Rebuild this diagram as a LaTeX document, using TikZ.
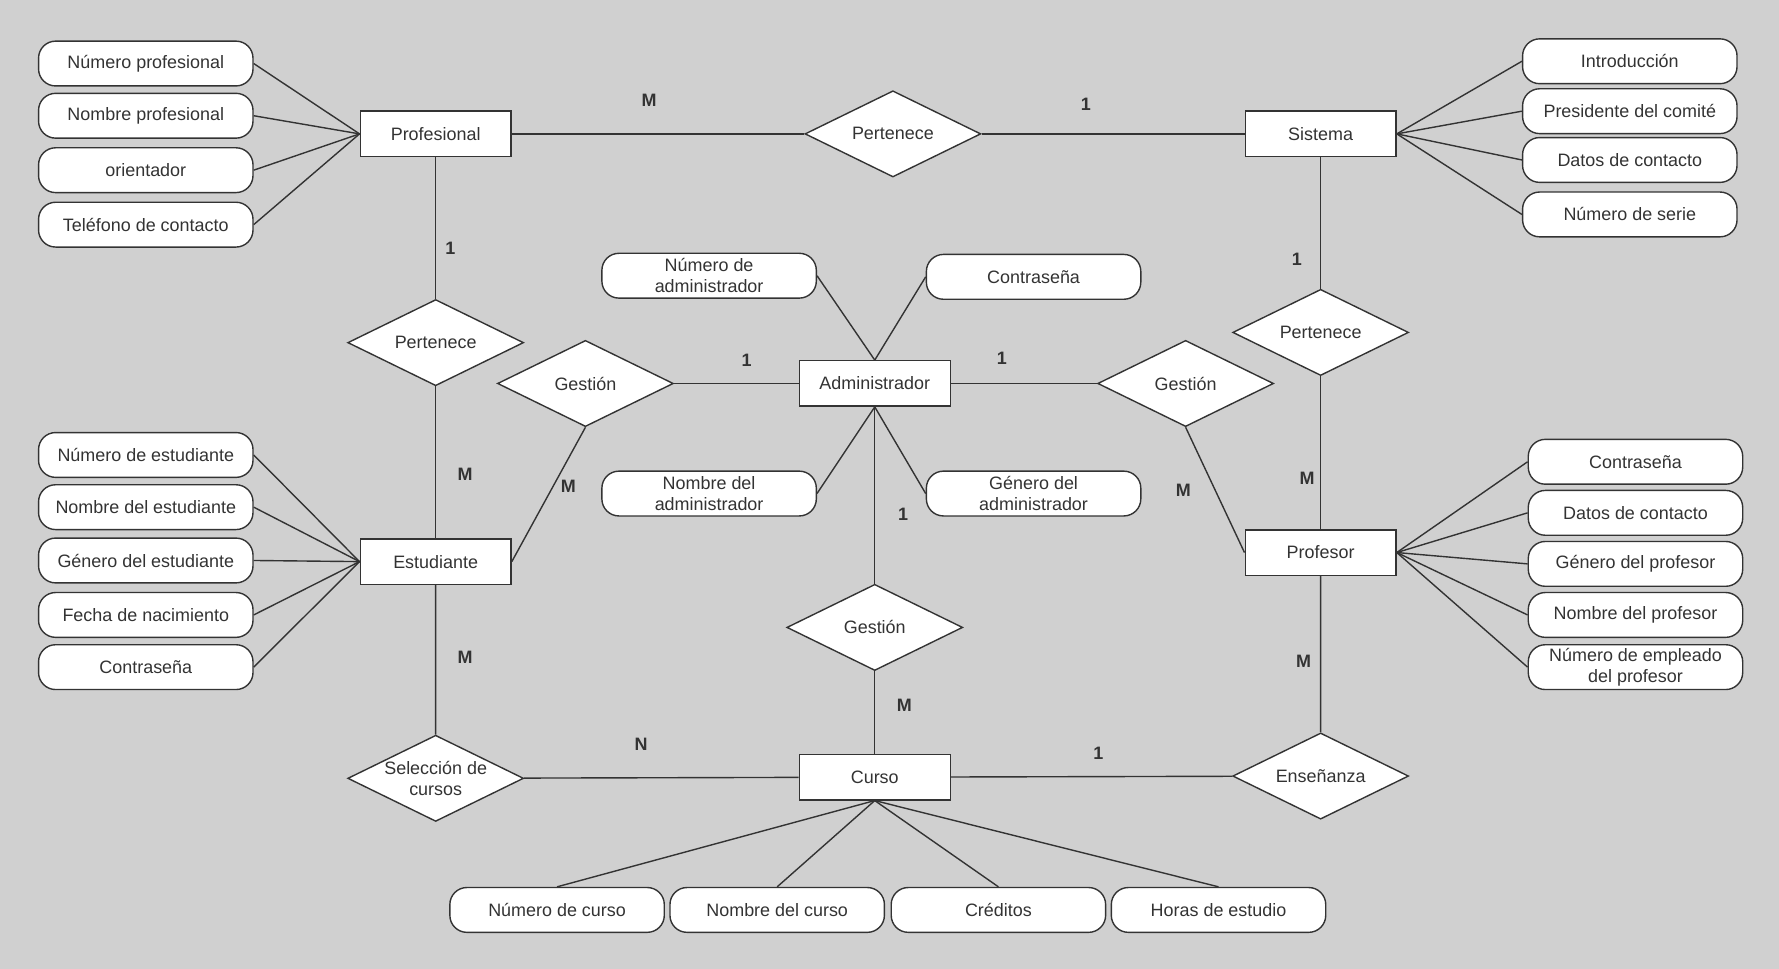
\documentclass[tikz,border=0pt]{standalone}
\usepackage{fontspec}
\setmainfont{Liberation Sans}
\usetikzlibrary{shapes.geometric}
\definecolor{bgGray}{HTML}{D0D0D0}
\definecolor{lineGray}{HTML}{333333}

\begin{document}
\begin{tikzpicture}[x=0.2mm, y=-0.2mm, color=lineGray, line width=0.7pt,
    font=\fontsize{9}{10.6}\selectfont,
    entity/.style={draw, fill=white, minimum width=26.6mm, minimum height=8mm, inner sep=1pt},
    attrib/.style={draw, fill=white, rounded corners=3mm, minimum width=37.8mm, minimum height=7.9mm, inner sep=1pt, align=center},
    relation/.style={draw, fill=white, diamond, shape aspect=2.04, minimum width=31mm, minimum height=15.2mm, inner sep=0pt, align=center},
    card/.style={font=\fontsize{9}{10}\selectfont\bfseries}]

    % background, same proportions as the page
    \useasboundingbox[fill=bgGray] (0,0) rectangle (1568,854);

    % entities
    \node[entity] (profesional) at (384,118) {Profesional};
    \node[entity] (sistema) at (1164,118) {Sistema};
    \node[entity] (estudiante) at (384,495) {Estudiante};
    \node[entity] (admin) at (771,338) {Administrador};
    \node[entity] (profesor) at (1164,487) {Profesor};
    \node[entity] (curso) at (771,685) {Curso};

    % relations
    \node[relation] (pertA) at (787,118) {Pertenece};
    \node[relation] (pertB) at (384,302) {Pertenece};
    \node[relation] (pertC) at (1164,293) {Pertenece};
    \node[relation] (gestA) at (516,338) {Gestión};
    \node[relation] (gestB) at (1045,338) {Gestión};
    \node[relation] (gestC) at (771,553) {Gestión};
    \node[relation, inner xsep=-3mm, inner ysep=-1mm] (seleccion) at (384,686) {Selección de\\cursos};
    \node[relation] (ensenanza) at (1164,684) {Enseñanza};

    % attributes of Profesional
    \node[attrib] (profNum) at (128.5,56) {Número profesional};
    \node[attrib] (profNom) at (128.5,102) {Nombre profesional};
    \node[attrib] (profOri) at (128.5,150) {orientador};
    \node[attrib] (profTel) at (128.5,198) {Teléfono de contacto};

    % attributes of Sistema
    \node[attrib] (sisIntro) at (1436.5,54) {Introducción};
    \node[attrib] (sisPres) at (1436.5,98) {Presidente del comité};
    \node[attrib] (sisDatos) at (1436.5,141) {Datos de contacto};
    \node[attrib] (sisSerie) at (1436.5,189) {Número de serie};

    % attributes of Estudiante
    \node[attrib] (estNum) at (128.5,401) {Número de estudiante};
    \node[attrib] (estNom) at (128.5,447) {Nombre del estudiante};
    \node[attrib] (estGen) at (128.5,494) {Género del estudiante};
    \node[attrib] (estFecha) at (128.5,542) {Fecha de nacimiento};
    \node[attrib] (estPass) at (128.5,588) {Contraseña};

    % attributes of Administrador
    \node[attrib] (admNum) at (625,243) {Número de\\administrador};
    \node[attrib] (admPass) at (911,244) {Contraseña};
    \node[attrib] (admNom) at (625,435) {Nombre del\\administrador};
    \node[attrib] (admGen) at (911,435) {Género del\\administrador};

    % attributes of Profesor
    \node[attrib] (docPass) at (1441.5,407) {Contraseña};
    \node[attrib] (docDatos) at (1441.5,452) {Datos de contacto};
    \node[attrib] (docGen) at (1441.5,497) {Género del profesor};
    \node[attrib] (docNom) at (1441.5,542) {Nombre del profesor};
    \node[attrib] (docNum) at (1441.5,588) {Número de empleado\\del profesor};

    % attributes of Curso
    \node[attrib] (curNum) at (491,802) {Número de curso};
    \node[attrib] (curNom) at (685,802) {Nombre del curso};
    \node[attrib] (curCred) at (880,802) {Créditos};
    \node[attrib] (curHoras) at (1074,802) {Horas de estudio};

    % attribute links
    \draw (profNum.east) -- (profesional.west);
    \draw (profNom.east) -- (profesional.west);
    \draw (profOri.east) -- (profesional.west);
    \draw (profTel.east) -- (profesional.west);
    \draw (sisIntro.west) -- (sistema.east);
    \draw (sisPres.west) -- (sistema.east);
    \draw (sisDatos.west) -- (sistema.east);
    \draw (sisSerie.west) -- (sistema.east);
    \draw (estNum.east) -- (estudiante.west);
    \draw (estNom.east) -- (estudiante.west);
    \draw (estGen.east) -- (estudiante.west);
    \draw (estFecha.east) -- (estudiante.west);
    \draw (estPass.east) -- (estudiante.west);
    \draw (admNum.east) -- (admin.north);
    \draw (admPass.west) -- (admin.north);
    \draw (admNom.east) -- (admin.south);
    \draw (admGen.west) -- (admin.south);
    \draw (docPass.west) -- (profesor.east);
    \draw (docDatos.west) -- (profesor.east);
    \draw (docGen.west) -- (profesor.east);
    \draw (docNom.west) -- (profesor.east);
    \draw (docNum.west) -- (profesor.east);
    \draw (curNum.north) -- (curso.south);
    \draw (curNom.north) -- (curso.south);
    \draw (curCred.north) -- (curso.south);
    \draw (curHoras.north) -- (curso.south);

    % relation links
    \draw (profesional) -- (pertA) -- (sistema);
    \draw (profesional) -- (pertB) -- (estudiante);
    \draw (estudiante) -- (seleccion) -- (curso);
    \draw (gestA.south) -- (estudiante.east);
    \draw (gestA) -- (admin) -- (gestB);
    \draw (admin) -- (gestC) -- (curso);
    \draw (gestB.south) -- (profesor.west);
    \draw (sistema) -- (pertC) -- (profesor);
    \draw (profesor) -- (ensenanza) -- (curso);

    % cardinalities
    \node[card] (cPA1) at (572,88) {M};
    \node[card] (cPA2) at (957,92) {1};
    \node[card] (cPB1) at (397,219) {1};
    \node[card] (cPB2) at (410,418) {M};
    \node[card] (cSel1) at (410,579) {M};
    \node[card] (cSel2) at (565,656) {N};
    \node[card] (cGA1) at (501,429) {M};
    \node[card] (cGA2) at (658,318) {1};
    \node[card] (cGB1) at (883,316) {1};
    \node[card] (cGB2) at (1043,432) {M};
    \node[card] (cGC1) at (796,453) {1};
    \node[card] (cGC2) at (797,622) {M};
    \node[card] (cPC1) at (1143,229) {1};
    \node[card] (cPC2) at (1152,422) {M};
    \node[card] (cEn1) at (1149,583) {M};
    \node[card] (cEn2) at (968,664) {1};

\end{tikzpicture}
\end{document}
